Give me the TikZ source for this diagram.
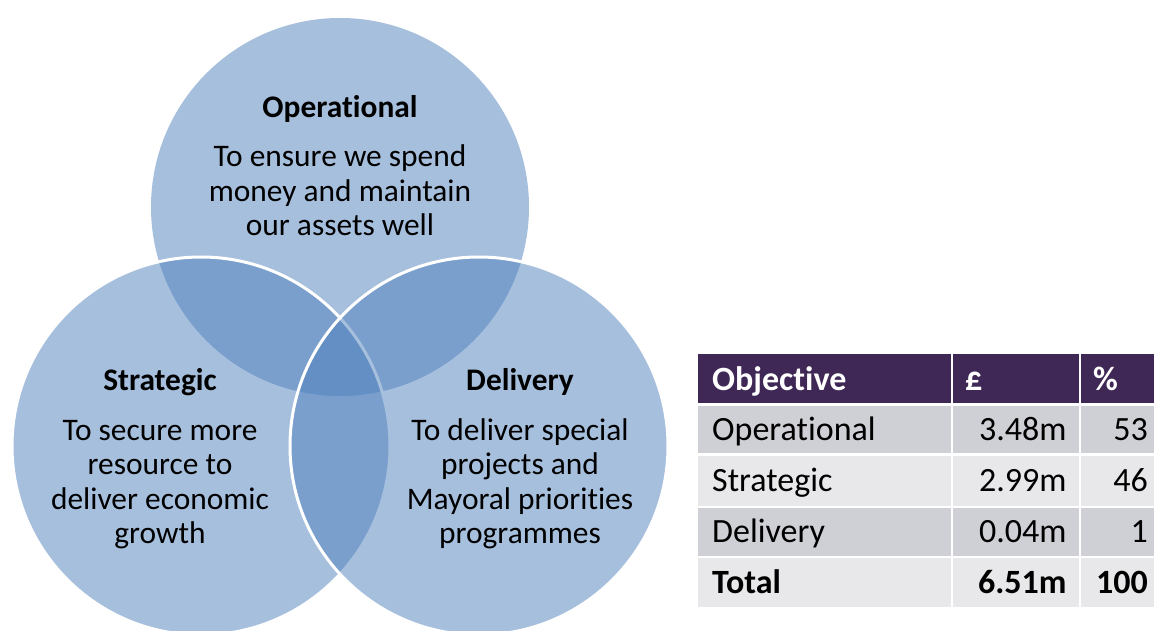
\documentclass[tikz,border=0pt]{standalone}
\usepackage{fontspec}
\setmainfont{Carlito}[Ligatures=NoCommon]
\definecolor{venn}{HTML}{4F81BD}
\definecolor{hdrpurple}{HTML}{3F2855}
\definecolor{rowdark}{HTML}{CFCFD6}
\definecolor{rowlight}{HTML}{E8E8EA}
\tikzset{
  ring/.style={circle, inner sep=0pt, outer sep=0pt, minimum size=378pt,
    fill=venn, fill opacity=0.5},
  ringline/.style={ring, draw=white, draw opacity=1, line width=3pt},
  head/.style={font=\bfseries\fontsize{31.4}{34.5}\selectfont, anchor=base, inner sep=0pt},
  body/.style={font=\fontsize{31.4}{34.5}\selectfont, anchor=base, inner sep=0pt},
  tcell/.style={font=\fontsize{34}{38}\selectfont, anchor=base west, inner sep=0pt},
  tnum/.style={font=\fontsize{34}{38}\selectfont, anchor=base east, inner sep=0pt},
  thead/.style={font=\bfseries\fontsize{34}{38}\selectfont, anchor=base west, inner sep=0pt, text=white},
}
\begin{document}
\begin{tikzpicture}[x=1pt,y=-1pt]
\useasboundingbox (0,0) rectangle (1154,631);
\fill[white] (0,0) rectangle (1154,631);

% three overlapping objective circles
\begin{scope}
  \clip (0,0) rectangle (1154,631);
  \node[ring] (cop) at (340,207) {};
  \node[ringline] (cst) at (201,446) {};
  \node[ringline] (cde) at (479,446) {};
\end{scope}

% Operational
\node[head] (oph) at (340,117.5) {Operational};
\node[body] (op1) at (340,167) {To ensure we spend};
\node[body] (op2) at (340,201.5) {money and maintain};
\node[body] (op3) at (340,236) {our assets well};

% Strategic
\node[head] (sth) at (160,390) {Strategic};
\node[body] (st1) at (160,440) {To secure more};
\node[body] (st2) at (160,474.5) {resource to};
\node[body] (st3) at (160,509) {deliver economic};
\node[body] (st4) at (160,543.5) {growth};

% Delivery
\node[head] (deh) at (520,390) {Delivery};
\node[body] (de1) at (520,440) {To deliver special};
\node[body] (de2) at (520,474.5) {projects and};
\node[body] (de3) at (520,509) {Mayoral priorities};
\node[body] (de4) at (520,543.5) {programmes};

% budget table: cell backgrounds
\fill[hdrpurple] (698,354) rectangle (950.8,402.6);
\fill[hdrpurple] (953,354) rectangle (1079.4,402.6);
\fill[hdrpurple] (1081.4,354) rectangle (1154,402.6);
\foreach \ya/\yb/\c in {405.7/453.4/rowdark, 455.8/505.6/rowlight, 508/555.8/rowdark, 558.3/606.7/rowlight}{
  \fill[\c] (698,\ya) rectangle (950.8,\yb);
  \fill[\c] (953,\ya) rectangle (1079.4,\yb);
  \fill[\c] (1081.4,\ya) rectangle (1154,\yb);
}

% table header
\node[thead] (th1) at (712,390) {Objective};
\node[thead] (th2) at (965,390) {£};
\node[thead] (th3) at (1093,390) {\%};

% table body
\node[tcell] (r1a) at (712,440.5) {Operational};
\node[tnum] (r1b) at (1066.7,440.5) {3.48m};
\node[tnum] (r1c) at (1148,440.5) {53};

\node[tcell] (r2a) at (712,491.5) {Strategic};
\node[tnum] (r2b) at (1066.7,491.5) {2.99m};
\node[tnum] (r2c) at (1148,491.5) {46};

\node[tcell] (r3a) at (712,542) {Delivery};
\node[tnum] (r3b) at (1066.7,542) {0.04m};
\node[tnum] (r3c) at (1148,542) {1};

\node[tcell, font=\bfseries\fontsize{34}{38}\selectfont] (r4a) at (712,593.3) {Total};
\node[tnum, font=\bfseries\fontsize{34}{38}\selectfont] (r4b) at (1066.7,593.3) {6.51m};
\node[tnum, font=\bfseries\fontsize{34}{38}\selectfont] (r4c) at (1148,593.3) {100};
\end{tikzpicture}
\end{document}
